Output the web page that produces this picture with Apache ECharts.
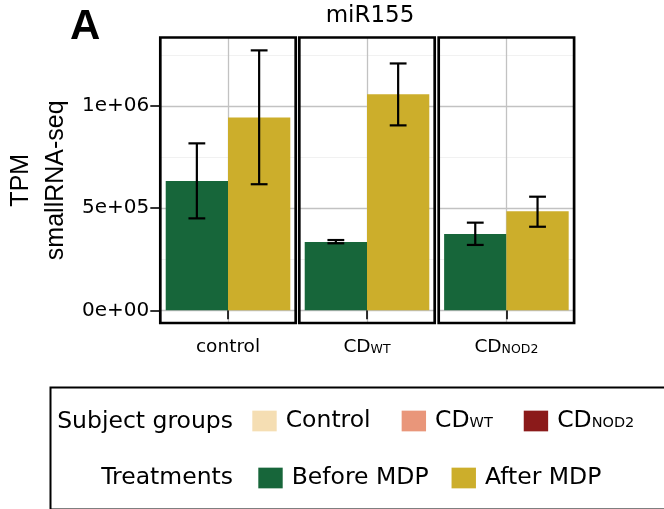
<!DOCTYPE html>
<html>
<head>
<meta charset="utf-8">
<script src="https://cdn.jsdelivr.net/npm/echarts@6/dist/echarts.min.js"></script>
<style>
  html, body { margin: 0; padding: 0; background: #fff; }
  #chart { width: 664px; height: 509px; }
</style>
</head>
<body>
<div id="chart"></div>
<script>
// miR155 expression (TPM, smallRNA-seq) per subject group, before / after MDP
const groupLabels = ['control', '{m|CD}{s|WT}', '{m|CD}{s|NOD2}'];
const beforeMDP = [633000, 334000, 374000];
const beforeLow = [450000, 328000, 320000];
const beforeHigh = [817000, 344000, 429000];
const afterMDP = [943000, 1057000, 485000];
const afterLow = [617000, 905000, 409000];
const afterHigh = [1272000, 1208000, 556000];

const yTickValues = [0, 500000, 1000000];
const yTickLabels = ['0e+00', '5e+05', '1e+06'];
const yMinorValues = [250000, 750000, 1250000];

const subjectGroups = ['Control', 'CDWT', 'CDNOD2'];
const subjectColors = ['#F5DEB3', '#E9967A', '#8B1A1A'];
const treatments = ['Before MDP', 'After MDP'];
const treatmentColors = ['#17663A', '#CCAE2B'];

const Y_MIN = -62000, Y_MAX = 1335000;
const CAT_GAP = 0.08;
const SANS = 'DejaVu Sans';

const panelLeft = [160.3, 299.3, 438.7];
const panelTop = 37.5, panelW = 135.4, panelH = 285.5;

const grid = [], xAxis = [], yAxis = [], series = [];

panelLeft.forEach((left, i) => {
  grid.push({
    left: left, top: panelTop, width: panelW, height: panelH,
    show: true, backgroundColor: 'transparent',
    borderColor: '#000', borderWidth: 2.7, z: 5
  });
  // category axis carrying the bars
  xAxis.push({
    type: 'category', gridIndex: i, position: 'bottom',
    data: [groupLabels[i]],
    axisLine: { show: false },
    axisTick: { show: true, alignWithLabel: true, length: 9, lineStyle: { color: '#000', width: 1.6 } },
    axisLabel: {
      margin: 15, color: '#000', fontFamily: SANS, fontSize: 18.5,
      rich: {
        m: { fontFamily: SANS, fontSize: 18.5, color: '#000', verticalAlign: 'bottom' },
        s: { fontFamily: SANS, fontSize: 12.5, color: '#000', verticalAlign: 'bottom', padding: [0, 0, 1, 0] }
      }
    },
    splitLine: { show: false }
  });
  // helper axis for the vertical centre grid line
  xAxis.push({
    type: 'value', gridIndex: i, position: 'top', min: 0, max: 1,
    axisLine: { show: false },
    axisTick: { show: false, customValues: [0.5] },
    axisLabel: { show: false, customValues: [0.5] },
    splitLine: { show: true, lineStyle: { color: '#c2c2c2', width: 1.3 } }
  });
  // main value axis
  yAxis.push({
    type: 'value', gridIndex: i, position: 'left', min: Y_MIN, max: Y_MAX,
    name: i === 0 ? 'TPM\nsmallRNA-seq' : '',
    nameLocation: 'middle', nameRotate: 90, nameGap: 87,
    nameTextStyle: { fontFamily: 'Liberation Sans', fontSize: 25, lineHeight: 35, color: '#000' },
    axisLine: { show: false },
    axisTick: { show: i === 0, customValues: yTickValues, length: 10, lineStyle: { color: '#000', width: 1.6 } },
    axisLabel: {
      show: i === 0, customValues: yTickValues, margin: 11,
      fontFamily: SANS, fontSize: 20, color: '#000',
      formatter: v => yTickLabels[yTickValues.indexOf(v)]
    },
    splitLine: { show: true, lineStyle: { color: '#c2c2c2', width: 1.3 } }
  });
  // faint minor grid lines
  yAxis.push({
    type: 'value', gridIndex: i, position: 'right', min: Y_MIN, max: Y_MAX,
    axisLine: { show: false },
    axisTick: { show: false, customValues: yMinorValues },
    axisLabel: { show: false, customValues: yMinorValues },
    splitLine: { show: true, lineStyle: { color: '#f1f1f1', width: 1 } }
  });

  const xi = i * 2, yi = i * 2;
  series.push({
    name: treatments[0], type: 'bar', xAxisIndex: xi, yAxisIndex: yi,
    data: [beforeMDP[i]], barGap: '0%', barCategoryGap: (CAT_GAP * 100) + '%',
    itemStyle: { color: treatmentColors[0] }, emphasis: { disabled: true }
  });
  series.push({
    name: treatments[1], type: 'bar', xAxisIndex: xi, yAxisIndex: yi,
    data: [afterMDP[i]], barGap: '0%', barCategoryGap: (CAT_GAP * 100) + '%',
    itemStyle: { color: treatmentColors[1] }, emphasis: { disabled: true }
  });
  series.push({
    name: 'errors', type: 'custom', xAxisIndex: xi, yAxisIndex: yi, z: 4,
    encode: { x: 0, y: [1, 2] },
    data: [[0, beforeLow[i], beforeHigh[i], 0], [0, afterLow[i], afterHigh[i], 1]],
    renderItem: (params, api) => {
      const cx0 = api.coord([api.value(0), 0])[0];
      const band = api.size([1, 0])[0];
      const barW = band * (1 - CAT_GAP) / 2;
      const cx = cx0 + (api.value(3) === 0 ? -barW / 2 : barW / 2);
      const yLo = api.coord([0, api.value(1)])[1];
      const yHi = api.coord([0, api.value(2)])[1];
      const hw = barW * 0.135;
      const st = { stroke: '#000', lineWidth: 2.2 };
      return {
        type: 'group',
        children: [
          { type: 'line', shape: { x1: cx, y1: yLo, x2: cx, y2: yHi }, style: st },
          { type: 'line', shape: { x1: cx - hw, y1: yHi, x2: cx + hw, y2: yHi }, style: st },
          { type: 'line', shape: { x1: cx - hw, y1: yLo, x2: cx + hw, y2: yLo }, style: st }
        ]
      };
    }
  });
});

// legend-only entries for the subject groups
subjectGroups.forEach((g, k) => {
  series.push({ name: g, type: 'scatter', xAxisIndex: 0, yAxisIndex: 0, data: [],
    itemStyle: { color: subjectColors[k], opacity: 1 } });
});

const legendRich = {
  m: { fontFamily: SANS, fontSize: 23.5, color: '#000', verticalAlign: 'bottom' },
  s: { fontFamily: SANS, fontSize: 14.5, color: '#000', verticalAlign: 'bottom', padding: [0, 0, 2, 0] }
};
const legendName = name => name === 'CDWT' ? '{m|CD}{s|WT}' : name === 'CDNOD2' ? '{m|CD}{s|NOD2}' : '{m|' + name + '}';

const option = {
  animation: false,
  backgroundColor: '#fff',
  textStyle: { fontFamily: SANS },
  title: [
    { text: 'miR155', left: 370, top: 5, textAlign: 'center', padding: 0,
      textStyle: { fontFamily: SANS, fontSize: 23, fontWeight: 'normal', color: '#000' } },
    { text: 'A', left: 70, top: 6, padding: 0,
      textStyle: { fontFamily: 'Liberation Sans', fontSize: 42, fontWeight: 'bold', color: '#000' } }
  ],
  legend: [
    { data: subjectGroups, left: 252.3, top: 409, orient: 'horizontal', padding: 0,
      icon: 'rect', itemWidth: 24.4, itemHeight: 20.7, itemGap: 31, selectedMode: false,
      itemStyle: { opacity: 1 },
      formatter: legendName, textStyle: { padding: [0, 0, 0, 4], rich: legendRich } },
    { data: treatments, left: 258.3, top: 466, orient: 'horizontal', padding: 0,
      icon: 'rect', itemWidth: 24.4, itemHeight: 20.7, itemGap: 23, selectedMode: false,
      itemStyle: { opacity: 1 },
      formatter: legendName, textStyle: { padding: [0, 0, 0, 4], rich: legendRich } }
  ],
  graphic: [
    { type: 'rect', left: 48, top: 385, silent: true, z: -1,
      shape: { width: 650, height: 122 }, style: { fill: 'none', stroke: '#000', lineWidth: 2 } },
    { type: 'text', x: 233, y: 422, silent: true,
      style: { text: 'Subject groups', fontFamily: SANS, fontSize: 23.5, fill: '#000', align: 'right', verticalAlign: 'middle' } },
    { type: 'text', x: 233, y: 478, silent: true,
      style: { text: 'Treatments', fontFamily: SANS, fontSize: 23.5, fill: '#000', align: 'right', verticalAlign: 'middle' } }
  ],
  grid, xAxis, yAxis, series
};

const chart = echarts.init(document.getElementById('chart'), null, { renderer: 'canvas' });
chart.setOption(option);
</script>
</body>
</html>
